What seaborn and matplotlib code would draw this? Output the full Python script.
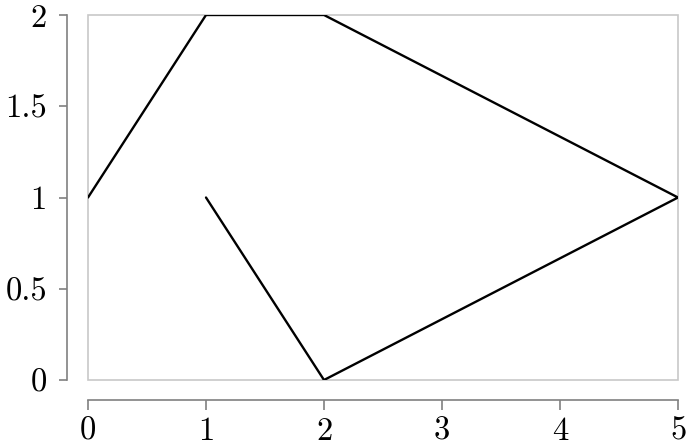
import matplotlib
matplotlib.use("Agg")
import matplotlib.pyplot as plt
import seaborn as sns
import pandas as pd
from matplotlib.patches import Rectangle
from matplotlib.ticker import FuncFormatter

# path points, in drawing order
xs = [0, 1, 2, 5, 2, 1]
ys = [1, 2, 2, 1, 0, 1]
xticks = [0, 1, 2, 3, 4, 5]
yticks = [0, 0.5, 1, 1.5, 2]

sns.set_style("white")
plt.rcParams['font.family'] = ['cmr10', 'DejaVu Serif']
plt.rcParams['axes.unicode_minus'] = False

df = pd.DataFrame({"x": xs, "y": ys, "order": range(len(xs))})

fig = plt.figure(figsize=(6.91, 4.47), dpi=100)
ax = fig.add_axes([88 / 691, 67 / 447, 590 / 691, 365 / 447])
sns.lineplot(data=df, x="x", y="y", sort=False, estimator=None,
             color="black", lw=1.7, ax=ax)

ax.set_xlim(0, 5)
ax.set_ylim(0, 2)
ax.set_xticks(xticks)
ax.set_yticks(yticks)
fmt = FuncFormatter(lambda v, p: "%g" % v)
ax.xaxis.set_major_formatter(fmt)
ax.yaxis.set_major_formatter(fmt)
ax.set_xlabel("")
ax.set_ylabel("")

# light frame around the data area
ax.add_patch(Rectangle((0, 0), 1, 1, transform=ax.transAxes, fill=False,
                       edgecolor="#c8c8c8", lw=1.2, clip_on=False, zorder=0))

for s in ["top", "right"]:
    ax.spines[s].set_visible(False)
ax.spines["left"].set_position(("outward", 15))
ax.spines["bottom"].set_position(("outward", 14.5))
for s in ["left", "bottom"]:
    ax.spines[s].set_color("#808080")
    ax.spines[s].set_linewidth(1.2)
ax.tick_params(axis="both", which="major", width=1.2,
               color="#808080", labelsize=23.5, labelcolor="black",
               left=True, bottom=True)
ax.tick_params(axis="y", length=5.5, pad=9)
ax.tick_params(axis="x", length=7, pad=5)

fig.savefig("out.png", dpi=100)
